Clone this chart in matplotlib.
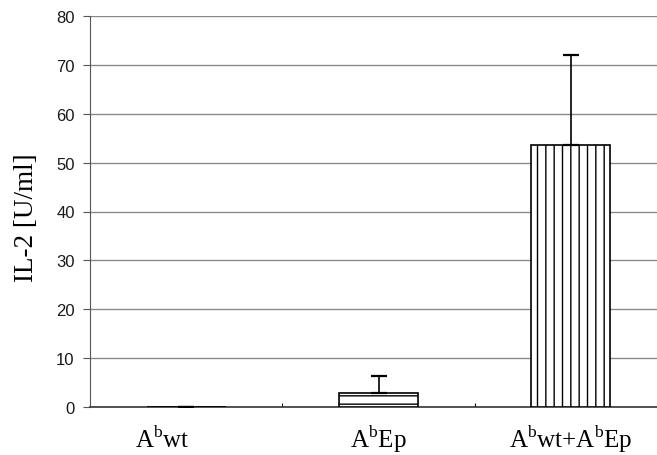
import matplotlib
matplotlib.use('Agg')
import matplotlib.pyplot as plt

# data
groups = ['A$^{\\mathrm{b}}$wt', 'A$^{\\mathrm{b}}$Ep', 'A$^{\\mathrm{b}}$wt+A$^{\\mathrm{b}}$Ep']
il2_mean = [0.0, 2.8, 53.6]
il2_err = [0.0, 3.5, 18.4]
hatches = ['', '--', '||']
label_shift = [-0.125, 0.0, 0.0]
yticks = [0, 10, 20, 30, 40, 50, 60, 70, 80]

plt.rcParams['mathtext.fontset'] = 'custom'
plt.rcParams['mathtext.rm'] = 'Liberation Serif'
plt.rcParams['hatch.linewidth'] = 1.0

fig = plt.figure(figsize=(6.57, 4.56), dpi=100)
# plot area runs slightly past the right edge of the image, as in the scan
ax = fig.add_axes([90 / 657, 48 / 456, 577 / 657, 391 / 456])

x = list(range(len(groups)))
for i in x:
    ax.bar(i, il2_mean[i], width=0.41, color='white', edgecolor='black',
           linewidth=1.2, hatch=hatches[i], zorder=3)
    ax.errorbar(i, il2_mean[i], yerr=[[0], [il2_err[i]]], fmt='none',
                ecolor='black', elinewidth=1.2, capsize=6, capthick=1.6, zorder=4)

ax.set_xlim(-0.5, 2.5)
ax.set_ylim(0, 80)
ax.set_yticks(yticks)
ax.set_yticklabels([str(t) for t in yticks], family='Liberation Sans', fontsize=12,
                   color='#1a1a1a')
ax.yaxis.grid(True, color='#8a8a8a', linewidth=1.0, zorder=0)

ax.set_xticks([0.5, 1.5])
ax.set_xticklabels([])
ax.tick_params(axis='x', direction='in', length=3, width=0.8)
ax.tick_params(axis='y', direction='out', length=5, width=0.8, pad=6, color='#555555')
for i in x:
    ax.text(i + label_shift[i], -8.2, groups[i], ha='center', va='baseline', fontsize=18,
            family='Liberation Serif')

ax.set_ylabel('IL-2 [U/ml]', family='Liberation Serif', fontsize=19.5)
ax.yaxis.set_label_coords(-0.0886, 0.486)

ax.spines['top'].set_visible(False)
ax.spines['right'].set_visible(False)
ax.spines['left'].set_color('#555555')
ax.spines['bottom'].set_color('#444444')
ax.spines['bottom'].set_linewidth(1.3)

fig.savefig('out.png', dpi=100)
plt.close()
